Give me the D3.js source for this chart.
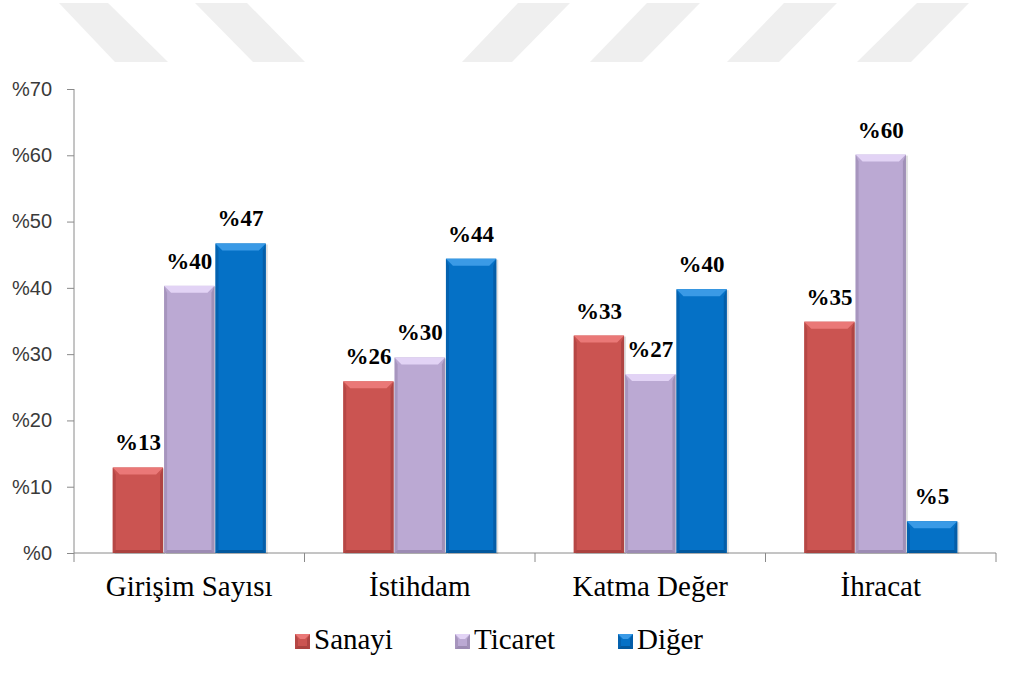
<!DOCTYPE html>
<html>
<head>
<meta charset="utf-8">
<script src="https://cdn.jsdelivr.net/npm/d3@7"></script>
<style>
  body { margin: 0; background: #fff; }
  .tick-label { font-family: "Liberation Sans", Arial, sans-serif; font-size: 20px; fill: #3a3a3a; }
  .cat-label { font-family: "Liberation Serif", "Times New Roman", serif; font-size: 29px; fill: #000; }
  .val-label { font-family: "Liberation Serif", "Times New Roman", serif; font-size: 23px; font-weight: bold; fill: #000; }
  .leg-label { font-family: "Liberation Serif", "Times New Roman", serif; font-size: 29px; fill: #000; }
</style>
</head>
<body>
<div id="chart"></div>
<script>
// Data
var categories = ["Girişim Sayısı", "İstihdam", "Katma Değer", "İhracat"];
var seriesNames = ["Sanayi", "Ticaret", "Diğer"];
var sanayi = [12.9, 25.9, 32.8, 34.9];
var ticaret = [40.3, 29.5, 27.0, 60.1];
var diger = [46.7, 44.4, 39.8, 4.8];
var yTicks = [0, 10, 20, 30, 40, 50, 60, 70];

var svgWidth = 1009;
var svgHeight = 676;

var margin = { top: 89, right: 13, bottom: 123, left: 74 };
var width = svgWidth - margin.left - margin.right;
var height = svgHeight - margin.top - margin.bottom;

// colours: face, top bevel, side edge, bottom edge
var colors = {
  "Sanayi":  { face: "#cb5451", top: "#ea7877", side: "#a8403e", bottom: "#9c3a38" },
  "Ticaret": { face: "#bba9d3", top: "#e2d3f5", side: "#9a89b0", bottom: "#8f7fa5" },
  "Diğer":   { face: "#0571c6", top: "#3a9ae6", side: "#0459a0", bottom: "#034e8c" }
};

var svg = d3.select("#chart")
  .append("svg")
  .attr("width", svgWidth)
  .attr("height", svgHeight);

// faint watermark stripes at the top (background decoration)
var stripes = [
  [[59, 3], [108, 3], [168, 62], [115, 62]],
  [[195, 3], [247, 3], [305, 62], [253, 62]],
  [[518, 3], [570, 3], [512, 62], [462, 62]],
  [[647, 3], [700, 3], [642, 62], [590, 62]],
  [[784, 3], [837, 3], [779, 62], [727, 62]],
  [[917, 3], [969, 3], [911, 62], [857, 62]]
];
svg.append("g").selectAll("polygon")
  .data(stripes)
  .enter()
  .append("polygon")
  .attr("points", d => d.map(p => p.join(",")).join(" "))
  .attr("fill", "#efefef");

var chartGroup = svg.append("g")
  .attr("transform", `translate(${margin.left}, ${margin.top})`);

var rows = categories.map(function(c, i) {
  return { cat: c, values: [sanayi[i], ticaret[i], diger[i]] };
});

var x0 = d3.scaleBand()
  .domain(categories)
  .range([0, width]);

var bw = x0.bandwidth();
var groupW = bw * 0.664;
var x1 = d3.scaleBand()
  .domain(seriesNames)
  .range([(bw - groupW) / 2, (bw + groupW) / 2])
  .paddingInner(0.02);

var y = d3.scaleLinear()
  .domain([0, 70])
  .range([height, 0]);

// y axis
var leftAxis = d3.axisLeft(y).tickValues(yTicks).tickSize(7).tickFormat(d => "%" + d);
var yAxisG = chartGroup.append("g").call(leftAxis);
yAxisG.select(".domain").attr("stroke", "#8a8a8a").attr("d", `M0,0V${height}`);
yAxisG.selectAll(".tick line").attr("stroke", "#8a8a8a");
yAxisG.selectAll(".tick text")
  .attr("class", "tick-label")
  .attr("x", -22);
yAxisG.attr("font-size", null).attr("font-family", null);

// x axis line with category separators
var xAxisG = chartGroup.append("g").attr("transform", `translate(0, ${height})`);
xAxisG.append("line")
  .attr("x1", 0).attr("x2", width)
  .attr("stroke", "#8a8a8a");
var seps = categories.map(c => x0(c)).concat([width]);
xAxisG.selectAll(".sep")
  .data(seps)
  .enter()
  .append("line")
  .attr("x1", d => d).attr("x2", d => d)
  .attr("y1", 0).attr("y2", 9)
  .attr("stroke", "#8a8a8a");
xAxisG.selectAll(".cat-label")
  .data(categories)
  .enter()
  .append("text")
  .attr("class", "cat-label")
  .attr("x", d => x0(d) + bw / 2)
  .attr("y", 43)
  .attr("text-anchor", "middle")
  .text(d => d);

// bevelled bar drawing
function drawBevelBar(g, x, yTop, w, h, c, bev) {
  var b = Math.min(bev, h / 2);
  var s = Math.min(3, w / 4);
  g.append("rect")
    .attr("x", x).attr("y", yTop)
    .attr("width", w).attr("height", h)
    .attr("fill", c.face);
  // left and right edges
  g.append("polygon")
    .attr("points", [[x, yTop], [x + s, yTop + b], [x + s, yTop + h - s], [x, yTop + h]].join(" "))
    .attr("fill", c.side).attr("opacity", 0.6);
  g.append("polygon")
    .attr("points", [[x + w, yTop], [x + w - s, yTop + b], [x + w - s, yTop + h - s], [x + w, yTop + h]].join(" "))
    .attr("fill", c.side).attr("opacity", 0.8);
  // bottom edge
  g.append("polygon")
    .attr("points", [[x, yTop + h], [x + s, yTop + h - s], [x + w - s, yTop + h - s], [x + w, yTop + h]].join(" "))
    .attr("fill", c.bottom).attr("opacity", 0.7);
  // top bevel
  g.append("polygon")
    .attr("points", [[x, yTop], [x + w, yTop], [x + w - b, yTop + b], [x + b, yTop + b]].join(" "))
    .attr("fill", c.top);
}

var barsGroup = chartGroup.append("g");
rows.forEach(function(r) {
  r.values.forEach(function(v, j) {
    var name = seriesNames[j];
    var bx = x0(r.cat) + x1(name);
    var g = barsGroup.append("g");
    // soft shadow
    g.append("rect")
      .attr("x", bx + 2).attr("y", y(v) + 1)
      .attr("width", x1.bandwidth()).attr("height", height - y(v))
      .attr("fill", "#000").attr("opacity", 0.12);
    drawBevelBar(g, bx, y(v), x1.bandwidth(), height - y(v), colors[name], 7);
  });
});

// value labels
rows.forEach(function(r) {
  r.values.forEach(function(v, j) {
    var name = seriesNames[j];
    chartGroup.append("text")
      .attr("class", "val-label")
      .attr("x", x0(r.cat) + x1(name) + x1.bandwidth() / 2)
      .attr("y", y(v) - 17)
      .attr("text-anchor", "middle")
      .text("%" + Math.round(v));
  });
});

// legend
var legendX = [295, 455, 618];
var legend = svg.append("g").attr("transform", "translate(0, 634)");
seriesNames.forEach(function(name, i) {
  var lg = legend.append("g").attr("transform", `translate(${legendX[i]}, 0)`);
  drawBevelBar(lg, 0, 0, 15, 15, colors[name], 5);
  lg.append("text")
    .attr("class", "leg-label")
    .attr("x", 19)
    .attr("y", 15)
    .text(name);
});
</script>
</body>
</html>
